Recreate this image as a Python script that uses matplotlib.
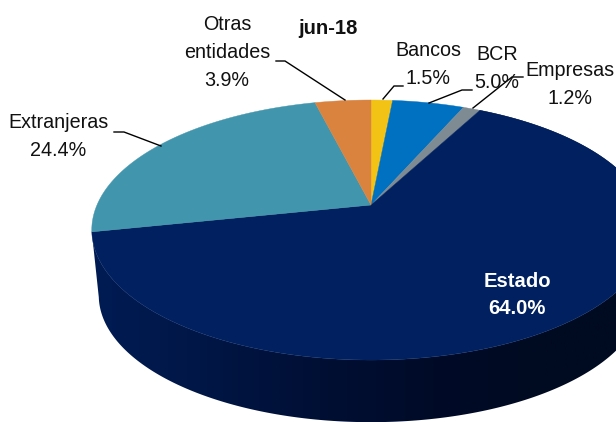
import numpy as np
import matplotlib
matplotlib.use("Agg")
import matplotlib.pyplot as plt
from matplotlib.colors import LinearSegmentedColormap
from matplotlib.patches import Polygon

plt.rcParams['font.family'] = ['Liberation Sans', 'DejaVu Sans']

# Data, clockwise from 12 o'clock
categories = ["Bancos", "BCR", "Empresas", "Estado", "Extranjeras", "Otras\nentidades"]
values = [1.5, 5.0, 1.2, 64.0, 24.4, 3.9]
colors = ["#F2C314", "#0070C0", "#7F8B93", "#00205F", "#4195AC", "#D9833F"]
title = "jun-18"

W, H = 616, 422
fig = plt.figure(figsize=(W / 100, H / 100), dpi=100)
ax = fig.add_axes([0, 0, 1, 1])

# Perspective view of a unit disc
CX, CY, A, B, K = 371.0, 205.0, 274.0, 125.2, 0.1925
DEPTH_Y, DEPTH_S = 66.0, 0.975


def project(theta, lower=False):
    u, v = np.sin(theta), np.cos(theta)
    w = 1 + K * v
    s = DEPTH_S if lower else 1.0
    return CX + s * A * u / w, CY + (DEPTH_Y if lower else 0) - s * B * v / w


edges = np.radians(np.concatenate([[0], np.cumsum(values)]) * 3.6)

# Side wall of the front slice (Estado), shaded left to right
side = LinearSegmentedColormap.from_list(
    "side", ["#001C54", "#001645", "#000F34", "#000B28", "#000A20", "#000A20"])
i_front = categories.index("Estado")
ts = np.linspace(edges[i_front], edges[i_front + 1], 400)
xt, yt = project(ts)
xb, yb = project(ts, lower=True)
wall = Polygon(np.c_[np.r_[xt, xb[::-1]], np.r_[yt, yb[::-1]]], closed=True,
               facecolor="none", edgecolor="none", transform=ax.transData)
ax.add_patch(wall)
img = ax.imshow(np.linspace(0, 1, 512)[None, :], cmap=side, aspect="auto",
                extent=[92, 660, H, 0], zorder=1)
img.set_clip_path(wall)

# Top face
for a0, a1, col in zip(edges[:-1], edges[1:], colors):
    t = np.linspace(a0, a1, 200)
    x, y = project(t)
    ax.fill(np.r_[CX, x], np.r_[CY, y], facecolor=col, edgecolor=col, lw=0.3, zorder=2)

ax.set_xlim(0, W)
ax.set_ylim(H, 0)
ax.axis("off")

# Leader lines
leaders = [
    ([114, 124, 161], [132, 132, 146]),
    ([276, 285, 345], [61, 61, 100]),
    ([403, 394, 383], [86, 86, 99]),
    ([472, 462, 429], [90, 90, 103]),
    ([523, 512, 473], [77, 77, 108]),
]
for lx, ly in leaders:
    ax.plot(lx, ly, color="black", lw=1.0, zorder=3, solid_joinstyle="miter")

FS = 14.2
labels = [
    (428, 64, f"{categories[0]}\n{values[0]:.1f}%"),
    (497, 68, f"{categories[1]}\n{values[1]:.1f}%"),
    (570, 85, f"{categories[2]}\n{values[2]:.1f}%"),
    (58, 137, f"{categories[4]}\n{values[4]:.1f}%"),
    (227, 53, f"{categories[5]}\n{values[5]:.1f}%"),
]
for x, y, s in labels:
    ax.text(x, y, s, ha="center", va="center", fontsize=FS, color="#111111",
            linespacing=1.6, zorder=4)

ax.text(517, 295, f"{categories[3]}\n{values[3]:.1f}%", ha="center", va="center",
        fontsize=14.6, fontweight="bold", color="white", linespacing=1.5, zorder=4)
ax.text(328, 28, title, ha="center", va="center", fontsize=14.6,
        fontweight="bold", color="#111111", zorder=4)

fig.savefig("out.png", dpi=100)
